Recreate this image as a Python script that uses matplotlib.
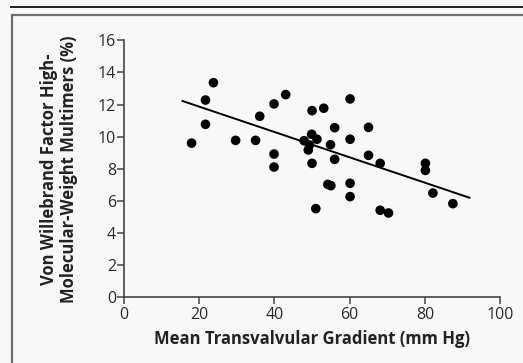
"""
Scatter of vWF high-molecular-weight multimers vs mean transvalvular gradient.
"""
import matplotlib.pyplot as plt
from matplotlib.patches import Rectangle
from matplotlib.lines import Line2D

plt.rcParams.update({
    'font.family': ['Open Sans', 'DejaVu Sans'],
    'font.size': 10,
})

# Data
gradient = [18.0, 21.7, 21.7, 23.8, 29.7, 35.0, 36.1, 39.9, 39.9, 39.9,
            43.0, 50.0, 50.0, 47.9, 49.9, 51.3, 49.0, 49.3, 53.1, 60.1,
            56.0, 65.0, 60.1, 54.9, 56.0, 65.0, 68.1, 80.1, 80.1, 82.1,
            87.4, 54.2, 55.0, 60.1, 60.1, 51.0, 68.1, 70.3]
multimers = [9.6, 12.28, 10.77, 13.36, 9.77, 9.77, 11.27, 12.04, 8.92, 8.11,
             12.62, 11.62, 8.34, 9.75, 10.15, 9.84, 9.17, 9.48, 11.77, 12.35,
             10.56, 10.58, 9.84, 9.5, 8.59, 8.84, 8.34, 8.34, 7.9, 6.49,
             5.83, 7.03, 6.95, 7.1, 6.27, 5.52, 5.42, 5.25]

# Regression line endpoints
fit_x = [15.6, 91.8]
fit_y = [12.22, 6.2]

x_ticks = [0, 20, 40, 60, 80, 100]
y_ticks = [0, 2, 4, 6, 8, 10, 12, 14, 16]

BG = '#f8f8f8'
AXIS = '#444444'

fig = plt.figure(figsize=(5.23, 3.63), dpi=100, facecolor=BG)

# Panel frame and top rule
fig.patches.append(Rectangle((12 / 523, -0.1), 1.1, (363 - 15) / 363 + 0.1,
                             transform=fig.transFigure, facecolor=BG,
                             edgecolor='#6e6e6e', linewidth=1.6, zorder=-5))
fig.lines.append(Line2D([11 / 523, 1.0], [1 - 7 / 363, 1 - 7 / 363],
                        transform=fig.transFigure, color='#222222', linewidth=1.4,
                        zorder=-5))

ax = fig.add_axes([0.2367, 0.181, 0.7199, 0.708])
ax.set_zorder(2)
ax.set_facecolor('none')

ax.plot(fit_x, fit_y, color='black', linewidth=1.4, zorder=2)
ax.scatter(gradient, multimers, s=48, color='black', edgecolors='none', zorder=3)

ax.set_xlim(0, 100)
ax.set_ylim(0, 16)
ax.set_xticks(x_ticks)
ax.set_yticks(y_ticks)

for side in ['top', 'right']:
    ax.spines[side].set_visible(False)
for side in ['left', 'bottom']:
    ax.spines[side].set_color(AXIS)
    ax.spines[side].set_linewidth(1.2)
ax.tick_params(colors=AXIS, length=5, width=1.1, labelsize=11.5,
               labelcolor='#2a2a2a', pad=2)
ax.tick_params(axis='y', pad=0.5)

ax.set_xlabel('Mean Transvalvular Gradient (mm Hg)', fontsize=12,
              fontweight='bold', color='#222222', labelpad=5)
ax.set_ylabel('Von Willebrand Factor High-\nMolecular-Weight Multimers (%)',
              fontsize=12, fontweight='bold', color='#222222',
              labelpad=14, linespacing=1.2)

fig.savefig('out.png', dpi=100, facecolor=BG)
